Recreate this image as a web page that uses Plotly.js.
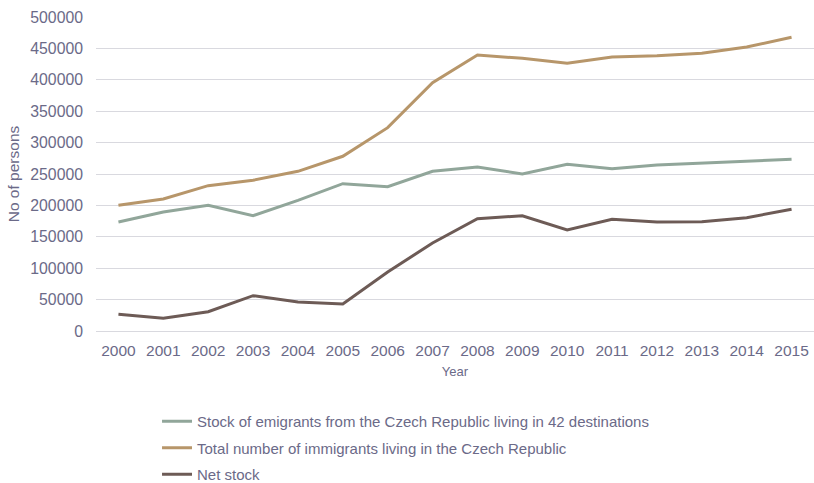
<!DOCTYPE html>
<html>
<head>
<meta charset="utf-8">
<script src="https://cdn.plot.ly/plotly-3.0.1.min.js"></script>
<style>html,body{margin:0;padding:0;background:#fff;}#chart{width:814px;height:483px;}</style>
</head>
<body>
<div id="chart"></div>
<script>
const years = ["2000","2001","2002","2003","2004","2005","2006","2007","2008","2009","2010","2011","2012","2013","2014","2015"];
const emigrants = [173600,189500,200200,183600,208100,234600,229800,254300,261100,250000,265400,258400,264300,267500,270700,273400];
const immigrants = [200200,210200,231400,240000,254300,278200,323800,395400,439500,434200,426200,436300,438400,442200,452200,467700];
const netStock = [26600,20200,30700,56200,46200,43000,94000,140100,178800,183600,160800,177800,173600,174000,180400,193800];
const seriesNames = [
  "Stock of emigrants from the Czech Republic living in 42 destinations",
  "Total number of immigrants living in the Czech Republic",
  "Net stock"
];
const yTicks = [0,50000,100000,150000,200000,250000,300000,350000,400000,450000,500000];

const textColor = "#6b6a88";
const font = "'Liberation Sans', Arial, sans-serif";
const colors = ["#91a69a","#b7966a","#6d5b56"];
const data = [emigrants, immigrants, netStock].map((v,i)=>({
  x: years, y: v, type: "scatter", mode: "lines", name: seriesNames[i],
  legendgroup: "g"+i,
  line: {color: colors[i], width: 3}
}));

const layout = {
  width: 814, height: 483,
  margin: {l: 96, r: 0, t: 17, b: 152, autoexpand: false},
  paper_bgcolor: "#fff", plot_bgcolor: "#fff",
  font: {family: font, color: textColor, size: 15.5},
  showlegend: true,
  legend: {
    x: 0.085, xanchor: "left",
    yref: "container", y: 1 - 405/483, yanchor: "top",
    traceorder: "grouped", tracegroupgap: 4,
    font: {size: 15, color: textColor}, bgcolor: "rgba(0,0,0,0)"
  },
  xaxis: {
    type: "category", range: [-0.5, 15.5], autorange: false,
    showgrid: false, zeroline: false, showline: false,
    ticks: "", tickfont: {size: 15.5, color: textColor},
    ticklabelstandoff: 8, automargin: false,
    title: {text: "Year", font: {size: 13, color: textColor}, standoff: 9}
  },
  yaxis: {
    range: [0, 500000], autorange: false, tickvals: yTicks, ticktext: yTicks.map(String),
    showgrid: true, gridcolor: "#d9d9df", gridwidth: 1,
    zeroline: true, zerolinecolor: "#d9d9df", zerolinewidth: 1,
    showline: false, ticks: "", ticklabelstandoff: 12, automargin: false,
    tickfont: {size: 15.8, color: textColor},
    title: {text: "No of persons", font: {size: 15.5, color: textColor}, standoff: 6}
  }
};
Plotly.newPlot("chart", data, layout, {displayModeBar: false, staticPlot: true});
</script>
</body>
</html>
